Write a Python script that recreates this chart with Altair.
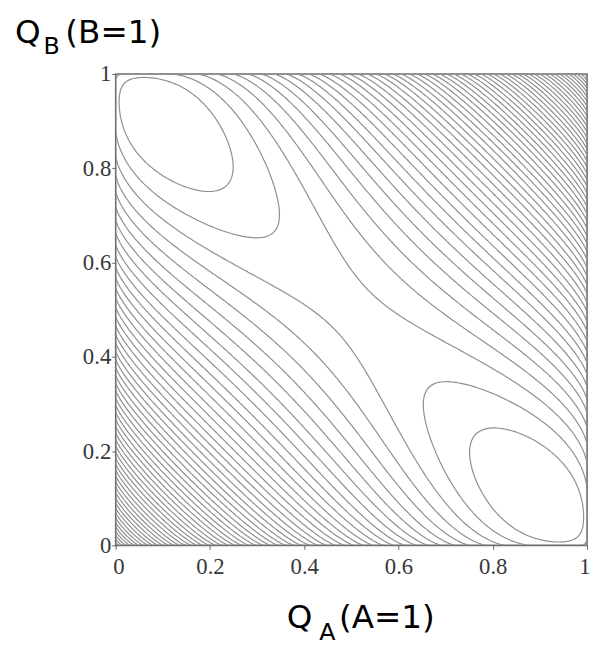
import numpy as np
import pandas as pd
import altair as alt

# Joint distribution P(A,B) approximated by the factorised Q_A * Q_B
P_00 = 0.0287
P_01 = 0.4713
P_10 = 0.4713
P_11 = 0.0287
# contour levels of KL(Q||P): first one above the minimum, then equal steps
LEVEL_FIRST = 0.063
LEVEL_STEP = 0.0555
AXIS_TICKS = [0, 0.2, 0.4, 0.6, 0.8, 1]

N = 201
g = np.linspace(0.0, 1.0, N)
A, B = np.meshgrid(g, g)  # A varies along columns (x), B along rows (y)


def xlogx(p):
    return np.where(p > 0, p * np.log(np.clip(p, 1e-300, None)), 0.0)


def ent(q):
    return -(xlogx(q) + xlogx(1 - q))


ElogP = ((1 - A) * (1 - B) * np.log(P_00) + (1 - A) * B * np.log(P_01)
         + A * (1 - B) * np.log(P_10) + A * B * np.log(P_11))
Z = -ent(A) - ent(B) - ElogP

zmin, zmax = Z.min(), Z.max()
levels = []
lv = zmin + LEVEL_FIRST
while lv < zmax:
    levels.append(lv)
    lv += LEVEL_STEP


def edge_point(key, L):
    kind, i, j = key
    if kind == "h":
        z0, z1 = Z[i, j], Z[i, j + 1]
        t = (L - z0) / (z1 - z0)
        return g[j] + t * (g[j + 1] - g[j]), g[i]
    z0, z1 = Z[i, j], Z[i + 1, j]
    t = (L - z0) / (z1 - z0)
    return g[j], g[i] + t * (g[i + 1] - g[i])


def contour(L):
    above = Z > L
    c00 = above[:-1, :-1]
    c01 = above[:-1, 1:]
    c11 = above[1:, 1:]
    c10 = above[1:, :-1]
    idx = c00 * 1 + c01 * 2 + c11 * 4 + c10 * 8
    segs = []
    for i, j in np.argwhere((idx > 0) & (idx < 15)):
        bot, right, top, left = ("h", i, j), ("v", i, j + 1), ("h", i + 1, j), ("v", i, j)
        e = []
        if c00[i, j] != c01[i, j]:
            e.append(bot)
        if c01[i, j] != c11[i, j]:
            e.append(right)
        if c10[i, j] != c11[i, j]:
            e.append(top)
        if c00[i, j] != c10[i, j]:
            e.append(left)
        if len(e) == 2:
            segs.append((e[0], e[1]))
        elif len(e) == 4:
            center = Z[i:i + 2, j:j + 2].mean() > L
            if center == c00[i, j]:
                segs.append((bot, right))
                segs.append((top, left))
            else:
                segs.append((bot, left))
                segs.append((right, top))
    adj = {}
    for k, (e1, e2) in enumerate(segs):
        adj.setdefault(e1, []).append(k)
        adj.setdefault(e2, []).append(k)
    used = [False] * len(segs)

    def walk(start):
        chain = [start]
        cur = start
        while True:
            nxt = None
            for k in adj[cur]:
                if not used[k]:
                    used[k] = True
                    e1, e2 = segs[k]
                    nxt = e2 if e1 == cur else e1
                    break
            if nxt is None:
                break
            chain.append(nxt)
            cur = nxt
        return chain

    chains = []
    for e, ks in adj.items():
        if len(ks) == 1 and not used[ks[0]]:
            chains.append(walk(e))
    for k in range(len(segs)):
        if not used[k]:
            chains.append(walk(segs[k][0]))
    return chains


rows = []
cid = 0
for L in levels:
    for chain in contour(L):
        if len(chain) < 3:
            continue
        for o, key in enumerate(chain):
            x, y = edge_point(key, L)
            rows.append((cid, o, round(float(x), 4), round(float(y), 4)))
        cid += 1
df = pd.DataFrame(rows, columns=["cid", "o", "x", "y"])

serif = "Liberation Serif"
axis_common = dict(values=AXIS_TICKS, format=".1~f", title=None, grid=False, domain=False,
                   tickSize=4, tickColor="#666", labelFont=serif, labelFontSize=23,
                   labelColor="#383838")

lines = alt.Chart(df).mark_line(color="#8f8f8f", strokeWidth=1.2, clip=True).encode(
    x=alt.X("x:Q", scale=alt.Scale(domain=[0, 1], nice=False, zero=False),
            axis=alt.Axis(labelPadding=6, labelFlush=True, labelFlushOffset=3, **axis_common)),
    y=alt.Y("y:Q", scale=alt.Scale(domain=[0, 1], nice=False, zero=False),
            axis=alt.Axis(labelPadding=1, labelFlush=False, **axis_common)),
    detail="cid:N",
    order="o:Q",
)

SANS = "DejaVu Sans"


def txt(s, px, py, size):
    return alt.Chart(pd.DataFrame({"t": [s]})).mark_text(
        text=s, align="left", baseline="alphabetic", font=SANS, fontSize=size, color="black"
    ).encode(x=alt.value(px), y=alt.value(py))


titles = [
    txt("Q", -102, -31, 33), txt("B", -73, -20, 24), txt("(B=1)", -51, -31, 33),
    txt("Q", 173, 561, 33), txt("A", 206, 573, 24), txt("(A=1)", 226, 561, 33),
]

chart = alt.layer(lines, *titles).properties(
    width=477, height=477,
    autosize=alt.AutoSizeParams(type="none"),
    padding={"left": 109, "top": 63, "right": 4, "bottom": 100},
    background="white",
).configure_view(stroke="#6e6e6e", strokeWidth=1.6)

chart.save("out.html", embed_options={"renderer": "svg", "actions": False})
